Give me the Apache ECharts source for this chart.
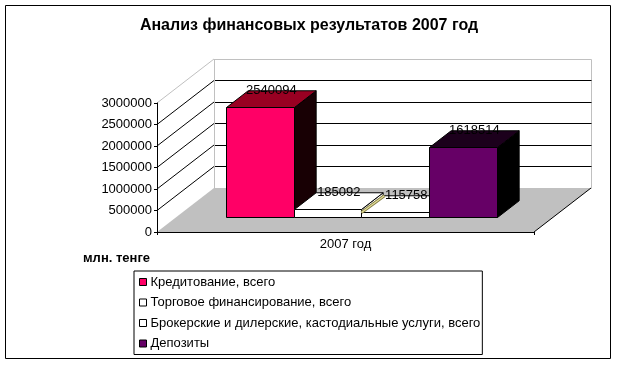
<!DOCTYPE html>
<html>
<head>
<meta charset="utf-8">
<script src="https://cdn.jsdelivr.net/npm/echarts@6/dist/echarts.min.js"></script>
<style>
  html, body { margin: 0; padding: 0; background: #fff; }
  #chart { width: 618px; height: 365px; }
</style>
</head>
<body>
<div id="chart"></div>
<script>
// ---- data ----
const titleText = 'Анализ финансовых результатов 2007 год';
const unitText = 'млн. тенге';
const categories = ['2007 год'];
const seriesNames = [
  'Кредитование, всего',
  'Торговое финансирование, всего',
  'Брокерские и дилерские, кастодиальные услуги, всего',
  'Депозиты'
];
const seriesValues = [2540094, 185092, 115758, 1618514];
const yTicks = [0, 500000, 1000000, 1500000, 2000000, 2500000, 3000000];

// ---- style ----
const FONT = '"Liberation Sans", Arial, sans-serif';
const frontColors = ['#ff0066', '#ffffff', '#ffffff', '#660066'];
const topColors   = ['#990022', '#ffffff', '#ffffff', '#1c001c'];
const sideColors  = ['#180004', '#ffffff', '#ffffff', '#000000'];
const DX = 57, DY = -44;          // depth vector of the 3D box
const F1 = 0.34, F2 = 0.72;       // bar depth fractions (front / back)
const BAR_FRAC = 0.18;            // bar width as fraction of category band

function px(v) { return Math.round(v - 0.5) + 0.5; }

function renderWalls(params, api) {
  const cs = params.coordSys;
  const xL = cs.x, xR = cs.x + cs.width;
  const yv = v => api.coord([0, v])[1];
  const yMax = yTicks[yTicks.length - 1];
  const y0 = yv(0), yT = yv(yMax);
  const children = [];
  children.push({ type: 'polygon', shape: { points: [[xL, y0], [xL, yT], [xL + DX, yT + DY], [xL + DX, y0 + DY]] },
    style: { fill: '#ffffff', stroke: null } });
  children.push({ type: 'rect', shape: { x: px(xL + DX), y: px(yT + DY), width: Math.round(xR - xL), height: Math.round(y0 - yT) },
    style: { fill: '#ffffff', stroke: '#c0c0c0', lineWidth: 1 } });
  children.push({ type: 'polygon', shape: { points: [[xL, y0], [xR, y0], [xR + DX, y0 + DY], [xL + DX, y0 + DY]] },
    style: { fill: '#c0c0c0', stroke: null } });
  yTicks.forEach(v => {
    if (v === 0 || v === yMax) return;
    const yf = yv(v);
    const yb = px(yf + DY);
    children.push({ type: 'line', shape: { x1: xL, y1: yf, x2: xL + DX, y2: yf + DY },
      style: { stroke: '#000', lineWidth: 1 } });
    children.push({ type: 'line', shape: { x1: px(xL + DX), y1: yb, x2: px(xR + DX), y2: yb },
      style: { stroke: '#000', lineWidth: 1 } });
  });
  children.push({ type: 'line', shape: { x1: xL, y1: yT, x2: xL + DX, y2: yT + DY },
    style: { stroke: '#c0c0c0', lineWidth: 1 } });
  children.push({ type: 'line', shape: { x1: px(xL + DX), y1: yT + DY, x2: px(xL + DX), y2: y0 + DY },
    style: { stroke: '#c0c0c0', lineWidth: 1 } });
  children.push({ type: 'line', shape: { x1: xR, y1: y0, x2: xR + DX, y2: y0 + DY },
    style: { stroke: '#000', lineWidth: 1 } });
  return { type: 'group', children: children };
}

function makeBarRender(i) {
  return function (params, api) {
    const v = api.value(1);
    const c0 = api.coord([api.value(0), 0]);
    const cv = api.coord([api.value(0), v]);
    const band = api.size([1, 0])[0];
    const bw = band * BAR_FRAC;
    const x0 = px(c0[0] - 2 * bw - 3 + i * bw + F1 * DX);
    const x1 = px(c0[0] - 2 * bw - 3 + (i + 1) * bw + F1 * DX);
    const yb = px(c0[1] + F1 * DY);
    const yt = px(cv[1] + F1 * DY);
    const ddx = (F2 - F1) * DX, ddy = (F2 - F1) * DY;
    const lineStyle = { stroke: '#000', lineWidth: 1, lineJoin: 'miter' };
    const children = [
      { type: 'polygon', shape: { points: [[x1, yt], [x1 + ddx, yt + ddy], [x1 + ddx, yb + ddy], [x1, yb]] },
        style: Object.assign({ fill: sideColors[i] }, lineStyle) },
      { type: 'polygon', shape: { points: [[x0, yt], [x1, yt], [x1 + ddx, yt + ddy], [x0 + ddx, yt + ddy]] },
        style: Object.assign({ fill: topColors[i] }, lineStyle) },
      { type: 'rect', shape: { x: x0, y: yt, width: x1 - x0, height: yb - yt },
        style: Object.assign({ fill: frontColors[i] }, lineStyle) }
    ];
    const lx = (x0 + x1) / 2 + ddx / 2;
    const ly = yt + ddy;
    if (i === 2) {
      children.push({ type: 'line', shape: { x1: x0, y1: yt, x2: lx - 22, y2: ly },
        style: { stroke: '#807a40', lineWidth: 3 } });
      children.push({ type: 'line', shape: { x1: x0, y1: yt, x2: lx - 22, y2: ly },
        style: { stroke: '#e0dc98', lineWidth: 1.4 } });
    }
    children.push({ type: 'text', style: { text: String(v), x: lx, y: ly, align: 'center', verticalAlign: 'middle',
      fill: '#000', fontSize: 13, fontFamily: FONT } });
    return { type: 'group', children: children };
  };
}

const chart = echarts.init(document.getElementById('chart'), null, { renderer: 'canvas' });

const series = [{
  type: 'custom', name: '_walls', clip: false, silent: true,
  data: [[0, 0]], renderItem: renderWalls
}];
seriesNames.forEach((name, i) => {
  series.push({
    type: 'custom', name: name, clip: false,
    itemStyle: { color: frontColors[i], borderColor: '#000', borderWidth: 1 },
    data: [[categories[0], seriesValues[i]]],
    renderItem: makeBarRender(i)
  });
});

const option = {
  animation: false,
  backgroundColor: '#ffffff',
  textStyle: { fontFamily: FONT },
  title: {
    text: titleText, left: 'center', top: 13,
    textStyle: { fontSize: 16, fontWeight: 'bold', color: '#000', fontFamily: FONT }
  },
  grid: { left: 157, right: 84, top: 103, bottom: 133 },
  xAxis: {
    type: 'category', data: categories, z: 10,
    axisLine: { lineStyle: { color: '#000', width: 1 } },
    axisTick: { show: true, length: 3, lineStyle: { color: '#000' } },
    axisLabel: { margin: 6, fontSize: 13, color: '#000', fontFamily: FONT },
    splitLine: { show: false }
  },
  yAxis: {
    type: 'value', min: yTicks[0], max: yTicks[yTicks.length - 1], interval: yTicks[1] - yTicks[0], z: 10,
    axisLine: { show: true, lineStyle: { color: '#000', width: 1 } },
    axisTick: { show: true, length: 3, lineStyle: { color: '#000' } },
    axisLabel: { margin: 5, fontSize: 13, color: '#000', fontFamily: FONT, formatter: v => String(v) },
    splitLine: { show: false }
  },
  legend: {
    orient: 'vertical', left: 134, top: 271,
    padding: [4, 2, 4, 5],
    itemWidth: 7, itemHeight: 7, itemGap: 6.5,
    borderColor: '#000', borderWidth: 1,
    icon: 'rect',
    selectedMode: false,
    textStyle: { fontSize: 13, color: '#000', fontFamily: FONT, lineHeight: 14, padding: [0, 0, 0, -1] },
    data: seriesNames.map((n, i) => ({
      name: n, icon: 'rect',
      itemStyle: { color: frontColors[i], borderColor: '#000', borderWidth: 1 }
    }))
  },
  graphic: [
    { type: 'rect', shape: { x: 5.5, y: 5.5, width: 605, height: 353 },
      style: { fill: 'none', stroke: '#000', lineWidth: 1 }, z: 100 },
    { type: 'text', x: 83, y: 258,
      style: { text: unitText, fontSize: 13, fontWeight: 'bold', fontFamily: FONT, fill: '#000', verticalAlign: 'middle' } }
  ],
  series: series
};
chart.setOption(option);
</script>
</body>
</html>
